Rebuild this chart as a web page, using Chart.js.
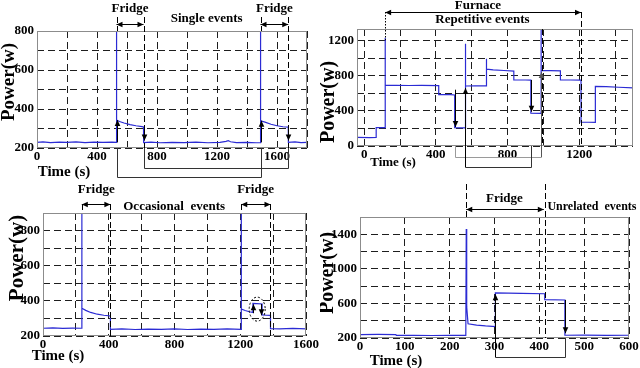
<!DOCTYPE html>
<html>
<head>
<meta charset="utf-8">
<script src="https://cdn.jsdelivr.net/npm/chart.js@4/dist/chart.umd.min.js"></script>
<style>
  html, body { margin: 0; padding: 0; background: #fff; }
  #wrap { position: relative; width: 640px; height: 368px; overflow: hidden; }
  #wrap canvas { position: absolute; }
</style>
</head>
<body>
<div id="wrap">
  <canvas id="c1" width="320" height="184" style="left:0;top:0"></canvas>
  <canvas id="c2" width="320" height="184" style="left:320px;top:0"></canvas>
  <canvas id="c3" width="320" height="184" style="left:0;top:184px"></canvas>
  <canvas id="c4" width="320" height="184" style="left:320px;top:184px"></canvas>
</div>
<script>
// --- single events (top left) ---
const t1 = [0, 40, 90, 150, 200, 260, 320, 380, 440, 500, 530, 530, 531, 550, 580, 620, 660, 700, 710, 711,
  760, 820, 900, 980, 1060, 1140, 1220, 1260, 1275, 1290, 1330, 1400, 1460, 1490, 1490, 1491, 1520, 1560, 1600, 1640,
  1675, 1676, 1720, 1760, 1800];
const p1 = [229, 231, 228, 230, 229, 231, 228, 230, 229, 230, 229, 800, 343, 336, 328, 320, 314, 310, 308, 228,
  230, 227, 229, 228, 230, 227, 229, 234, 238, 232, 228, 229, 227, 228, 800, 340, 333, 322, 314, 309,
  307, 229, 231, 228, 229];
const x1Ticks = [0, 200, 400, 600, 800, 1000, 1200, 1400, 1600, 1800];
const x1Labels = [0, 400, 800, 1200, 1600];
const y1Ticks = [200, 300, 400, 500, 600, 700, 800];
const y1Labels = [200, 400, 600, 800];

// --- furnace, repetitive events (top right) ---
const t2 = [-40, 30, 67, 67, 117, 117, 118, 180, 250, 320, 416, 416, 480, 505, 505, 565, 565, 566, 620, 682,
  682, 683, 720, 780, 835, 835, 900, 930, 930, 987, 987, 988, 1040, 1095, 1095, 1150, 1210, 1210, 1250, 1290,
  1290, 1350, 1420, 1500];
const p2 = [97, 95, 97, 208, 208, 1230, 689, 690, 688, 689, 687, 585, 583, 580, 208, 206, 1163, 682, 683, 684,
  993, 874, 866, 858, 852, 752, 750, 748, 374, 372, 1320, 856, 857, 855, 752, 750, 748, 271, 270, 268,
  678, 675, 668, 660];
const x2Ticks = [0, 200, 400, 600, 800, 1000, 1200, 1400];
const x2Labels = [0, 400, 800, 1200];
const y2Ticks = [0, 200, 400, 600, 800, 1000, 1200];
const y2Labels = [0, 400, 800, 1200];

// --- occasional events (bottom left) ---
const t3 = [0, 60, 120, 180, 236, 236, 237, 260, 290, 330, 370, 410, 410, 480, 560, 640, 720, 800, 880, 960,
  1040, 1120, 1206, 1206, 1207, 1230, 1255, 1277, 1277, 1300, 1333, 1333, 1360, 1384, 1384, 1440, 1520, 1600];
const p3 = [244, 246, 243, 245, 244, 900, 358, 346, 334, 324, 318, 314, 238, 240, 237, 239, 238, 240, 237, 239,
  238, 240, 238, 900, 353, 345, 338, 334, 385, 384, 382, 320, 318, 317, 242, 240, 243, 241];
const x3Ticks = [0, 200, 400, 600, 800, 1000, 1200, 1400, 1600];
const x3Labels = [0, 400, 800, 1200, 1600];
const y3Ticks = [200, 300, 400, 500, 600, 700, 800, 900];
const y3Labels = [200, 400, 600, 800];

// --- unrelated events (bottom right) ---
const t4 = [0, 40, 80, 81, 120, 160, 200, 236, 237, 238, 241, 260, 280, 302, 302, 360, 412, 412, 457, 457,
  500, 550, 600];
const p4 = [240, 241, 240, 230, 232, 229, 231, 230, 1460, 560, 365, 350, 340, 332, 722, 716, 712, 645, 640, 232,
  234, 231, 232];
const x4Ticks = [0, 100, 200, 300, 400, 500, 600];
const x4Labels = [0, 100, 200, 300, 400, 500, 600];
const y4Ticks = [200, 400, 600, 800, 1000, 1200, 1400, 1600];
const y4Labels = [200, 600, 1000, 1400];

const LINE = '#2b2bd4';
const FONT = '"Liberation Serif", "Times New Roman", serif';

Chart.defaults.font.family = FONT;
Chart.defaults.font.size = 13;
Chart.defaults.font.weight = 'bold';
Chart.defaults.color = '#000';

function head(ctx, x, y, dx, dy) {
  // small filled arrow head with tip at x,y pointing along dx,dy
  const L = 6, W = 2.8;
  ctx.beginPath();
  ctx.moveTo(x, y);
  ctx.lineTo(x - dx * L - dy * W, y - dy * L - dx * W);
  ctx.lineTo(x - dx * L + dy * W, y - dy * L + dx * W);
  ctx.closePath();
  ctx.fill();
}

function notesPlugin(items) {
  return {
    id: 'notes',
    afterDraw(chart) {
      const ctx = chart.ctx, a = chart.chartArea;
      const X = v => chart.scales.x.getPixelForValue(v);
      const Y = v => chart.scales.y.getPixelForValue(v);
      ctx.save();
      ctx.setLineDash([]);
      ctx.strokeStyle = '#8c8c8c';
      ctx.lineWidth = 1;
      ctx.strokeRect(Math.round(a.left) + 0.5, Math.round(a.top) + 0.5,
        Math.round(a.right) - Math.round(a.left) - 1, Math.round(a.bottom) - Math.round(a.top) - 1);

      items.forEach(n => {
        ctx.save();
        ctx.strokeStyle = n.color || '#000';
        ctx.fillStyle = n.color || '#000';
        ctx.lineWidth = 1;
        if (n.type === 'text') {
          ctx.font = 'bold ' + (n.size || 13) + 'px ' + FONT;
          ctx.textAlign = n.align || 'center';
          ctx.textBaseline = 'middle';
          const x = n.px !== undefined ? n.px : X(n.x);
          ctx.translate(x, n.y);
          if (n.rot) ctx.rotate(-Math.PI / 2);
          ctx.fillText(n.text, 0, 0);
        } else if (n.type === 'darrow') {
          const x1 = X(n.x1), x2 = X(n.x2), y = n.y + 0.5;
          ctx.beginPath(); ctx.moveTo(x1, y); ctx.lineTo(x2, y); ctx.stroke();
          head(ctx, x1, y, -1, 0);
          head(ctx, x2, y, 1, 0);
        } else if (n.type === 'vline') {
          const x = Math.round(X(n.x)) + 0.5;
          ctx.setLineDash(n.dash || [6, 3]);
          ctx.beginPath(); ctx.moveTo(x, n.y1); ctx.lineTo(x, n.y2 === 'bottom' ? a.bottom : n.y2); ctx.stroke();
        } else if (n.type === 'arrow') {
          const x = Math.round(X(n.x)) + 0.5;
          const y1 = n.v1 !== undefined ? Y(n.v1) : n.y1, y2 = Y(n.v2);
          ctx.beginPath(); ctx.moveTo(x, y1); ctx.lineTo(x, y2); ctx.stroke();
          head(ctx, x, y2, 0, y2 > y1 ? 1 : -1);
        } else if (n.type === 'bracket') {
          const x1 = Math.round(X(n.x1)) + 0.5, x2 = Math.round(X(n.x2)) + 0.5, y = n.y + 0.5;
          ctx.beginPath();
          ctx.moveTo(x1, a.bottom); ctx.lineTo(x1, y); ctx.lineTo(x2, y); ctx.lineTo(x2, a.bottom);
          ctx.stroke();
        } else if (n.type === 'ellipse') {
          ctx.setLineDash([2, 2]);
          ctx.beginPath(); ctx.ellipse(X(n.x), Y(n.v), n.rx, n.ry, 0, 0, Math.PI * 2); ctx.stroke();
        }
        ctx.restore();
      });
      ctx.restore();
    }
  };
}

function plot(id, t, p, box, xs, ys, notes) {
  const pts = t.map((x, i) => ({ x: x, y: p[i] }));
  const grid = { color: '#1e1e1e', lineWidth: 1, drawTicks: false };
  const border = { display: false, dash: [7, 4] };
  return new Chart(document.getElementById(id), {
    type: 'line',
    data: { datasets: [{ data: pts, borderColor: LINE, borderWidth: 1.2, pointRadius: 0, tension: 0, fill: false }] },
    options: {
      responsive: false,
      animation: false,
      devicePixelRatio: 1,
      layout: { padding: { top: box.top, right: 320 - box.right, left: 0, bottom: 0 } },
      plugins: { legend: { display: false }, tooltip: { enabled: false } },
      scales: {
        x: {
          type: 'linear', min: xs.min, max: xs.max,
          afterFit: s => { s.height = 184 - box.bottom; },
          afterBuildTicks: s => { s.ticks = xs.ticks.map(v => ({ value: v })); },
          ticks: { padding: 1, maxRotation: 0, autoSkip: false,
            callback: v => xs.labels.includes(v) ? String(v) : '' },
          grid: grid, border: border
        },
        y: {
          type: 'linear', min: ys.min, max: ys.max,
          afterFit: s => { s.width = box.left; },
          afterBuildTicks: s => { s.ticks = ys.ticks.map(v => ({ value: v })); },
          ticks: { padding: 3, autoSkip: false,
            callback: v => ys.labels.includes(v) ? String(v) : '' },
          grid: grid, border: border
        }
      }
    },
    plugins: [notesPlugin(notes)]
  });
}

plot('c1', t1, p1, { left: 37, right: 307, top: 31, bottom: 148 },
  { min: 0, max: 1800, ticks: x1Ticks, labels: x1Labels },
  { min: 200, max: 800, ticks: y1Ticks, labels: y1Labels }, [
    { type: 'text', x: 620, y: 9, text: 'Fridge' },
    { type: 'text', x: 1131, y: 19, text: 'Single events' },
    { type: 'text', x: 1583, y: 9, text: 'Fridge' },
    { type: 'darrow', x1: 530, x2: 710, y: 24 },
    { type: 'darrow', x1: 1490, x2: 1675, y: 24 },
    { type: 'vline', x: 530, y1: 17, y2: 31 },
    { type: 'vline', x: 710, y1: 17, y2: 'bottom' },
    { type: 'vline', x: 1490, y1: 17, y2: 31 },
    { type: 'vline', x: 1675, y1: 17, y2: 'bottom' },
    { type: 'bracket', x1: 530, x2: 1490, y: 177, color: '#333' },
    { type: 'bracket', x1: 710, x2: 1675, y: 168, color: '#333' },
    { type: 'arrow', x: 530, v1: 229, v2: 343 },
    { type: 'arrow', x: 710, v1: 300, v2: 238 },
    { type: 'arrow', x: 1490, v1: 229, v2: 340 },
    { type: 'arrow', x: 1675, v1: 300, v2: 238 },
    { type: 'text', px: 9, y: 82, text: 'Power(w)', size: 19, rot: true },
    { type: 'text', px: 64, y: 172, text: 'Time (s)', size: 15 }
  ]);

plot('c2', t2, p2, { left: 37, right: 313, top: 29, bottom: 146 },
  { min: -40, max: 1500, ticks: x2Ticks, labels: x2Labels },
  { min: 0, max: 1330, ticks: y2Ticks, labels: y2Labels }, [
    { type: 'text', x: 635, y: 6, text: 'Furnace' },
    { type: 'text', x: 660, y: 20, text: 'Repetitive events' },
    { type: 'darrow', x1: 117, x2: 1210, y: 12 },
    { type: 'vline', x: 117, y1: 12, y2: 40, dash: [1.5, 1.5] },
    { type: 'vline', x: 1210, y1: 12, y2: 'bottom' },
    { type: 'vline', x: 990, y1: 29, y2: 'bottom' },
    { type: 'bracket', x1: 507, x2: 985, y: 157, color: '#9a9a9a' },
    { type: 'bracket', x1: 565, x2: 930, y: 167, color: '#333' },
    { type: 'arrow', x: 507, v1: 640, v2: 215 },
    { type: 'arrow', x: 565, y1: 167, v2: 660 },
    { type: 'arrow', x: 930, v1: 750, v2: 390 },
    { type: 'arrow', x: 985, y1: 157, v2: 840, color: '#555' },
    { type: 'text', px: 9, y: 102, text: 'Power(w)', size: 20, rot: true },
    { type: 'text', px: 73, y: 163, text: 'Time (s)', size: 13 }
  ]);

plot('c3', t3, p3, { left: 43, right: 306, top: 29, bottom: 152 },
  { min: 0, max: 1600, ticks: x3Ticks, labels: x3Labels },
  { min: 200, max: 900, ticks: y3Ticks, labels: y3Labels }, [
    { type: 'text', x: 324, y: 6, text: 'Fridge' },
    { type: 'text', x: 1293, y: 6, text: 'Fridge' },
    { type: 'text', x: 798, y: 23, text: 'Occasional  events' },
    { type: 'darrow', x1: 236, x2: 410, y: 20 },
    { type: 'darrow', x1: 1206, x2: 1384, y: 20 },
    { type: 'vline', x: 236, y1: 20, y2: 29 },
    { type: 'vline', x: 410, y1: 20, y2: 'bottom' },
    { type: 'vline', x: 1206, y1: 20, y2: 29 },
    { type: 'vline', x: 1384, y1: 20, y2: 'bottom' },
    { type: 'ellipse', x: 1303, v: 353, rx: 8, ry: 12 },
    { type: 'arrow', x: 1277, v1: 330, v2: 380 },
    { type: 'arrow', x: 1325, v1: 382, v2: 318 },
    { type: 'text', px: 18, y: 74, text: 'Power(w)', size: 21, rot: true },
    { type: 'text', px: 58, y: 172, text: 'Time (s)', size: 15 }
  ]);

plot('c4', t4, p4, { left: 40, right: 309, top: 33, bottom: 154 },
  { min: 0, max: 600, ticks: x4Ticks, labels: x4Labels },
  { min: 200, max: 1600, ticks: y4Ticks, labels: y4Labels }, [
    { type: 'vline', x: 237, y1: 0, y2: 33 },
    { type: 'vline', x: 412, y1: 0, y2: 'bottom' },
    { type: 'text', x: 322, y: 15, text: 'Fridge' },
    { type: 'darrow', x1: 237, x2: 410, y: 25 },
    { type: 'text', x: 418, y: 23, text: 'Unrelated  events', size: 12, align: 'left' },
    { type: 'bracket', x1: 302, x2: 457, y: 173, color: '#333' },
    { type: 'arrow', x: 302, y1: 173, v2: 705 },
    { type: 'arrow', x: 457, v1: 640, v2: 255 },
    { type: 'text', px: 8, y: 89, text: 'Power(w)', size: 20, rot: true },
    { type: 'text', px: 76, y: 177, text: 'Time (s)', size: 15 }
  ]);
</script>
</body>
</html>
